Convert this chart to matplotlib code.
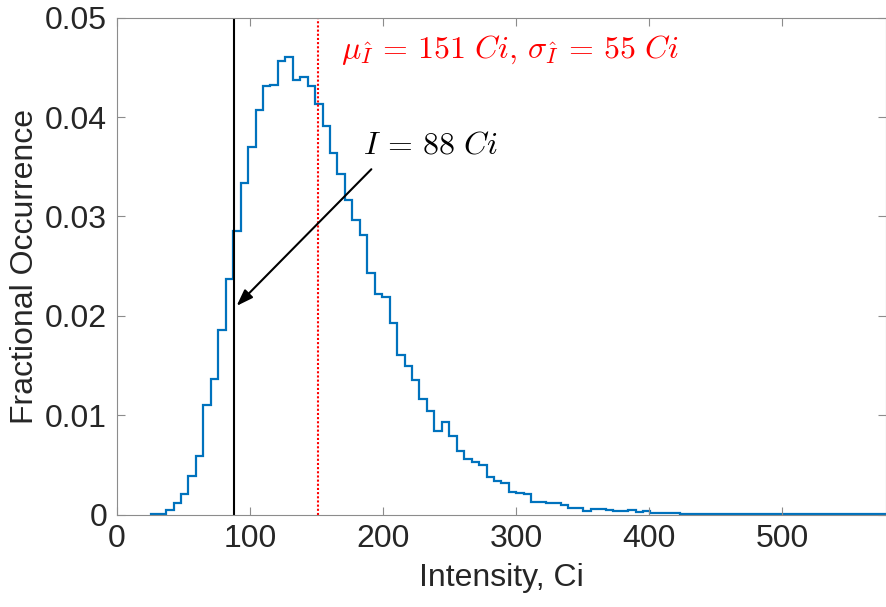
import numpy as np
import matplotlib
matplotlib.use('Agg')
import matplotlib.pyplot as plt

# Histogram (stairs)
BIN_START = 25.75
BIN_WIDTH = 5.6
frac = [
    0.0001, 0.0001, 0.00047, 0.0012, 0.0021, 0.0039, 0.0059, 0.0110, 0.01365, 0.0186,
    0.0237, 0.0285, 0.0334, 0.0370, 0.0407, 0.0431, 0.0432, 0.0456, 0.0460, 0.0437,
    0.0440, 0.0431, 0.0413, 0.0391, 0.0364, 0.0343, 0.0317, 0.0296, 0.0281, 0.0243,
    0.0222, 0.0219, 0.0193, 0.0161, 0.0150, 0.0136, 0.0116, 0.0104, 0.0084, 0.0093,
    0.0079, 0.0064, 0.0056, 0.0053, 0.0050, 0.0038, 0.0034, 0.0032, 0.0023, 0.0022,
    0.0021, 0.0013, 0.00125, 0.0012, 0.00115, 0.0010, 0.0007, 0.00067, 0.0004, 0.00057,
    0.00057, 0.00047, 0.0004, 0.00034, 0.0005, 0.00024, 0.00034, 0.00014, 0.00017, 0.0002,
    0.00017, 0.0001, 0.00008, 0.00008, 0.00006, 0.0001, 0.00004, 0.0001, 0.0001, 0.00004,
    0.00004, 0.00003, 0.00003, 0.0001, 0.00003, 0.00003, 0.00003, 0.00008, 0.00003, 0.00003,
    0.00003, 0.00003, 0.00003, 0.00003, 0.0001, 0.00003, 0.00003, 0.00003, 0.00003, 0.00003,
]
edges = BIN_START + BIN_WIDTH * np.arange(len(frac) + 1)

I_MEASURED = 88
MU = 151
SIGMA = 55
xticks = [0, 100, 200, 300, 400, 500]
yticks = [0, 0.01, 0.02, 0.03, 0.04, 0.05]

plt.rcParams['font.family'] = ['Liberation Sans', 'DejaVu Sans']
plt.rcParams['mathtext.fontset'] = 'cm'

AX_COLOR = '#262626'
SPINE_COLOR = '#8c8c8c'

fig = plt.figure(figsize=(8.86, 6.07), dpi=100)
ax = fig.add_axes([0.132, 0.152, 0.868, 0.819])

ax.stairs(frac, edges, color='#0072BD', linewidth=1.6)
ax.axvline(I_MEASURED, color='black', linewidth=1.5)
ax.axvline(MU, color='red', linewidth=1.5, linestyle=(0, (1, 1)))

ax.annotate('', xy=(89.9, 0.0210), xytext=(191.2, 0.03475),
            arrowprops=dict(arrowstyle='-|>,head_length=1.0,head_width=0.35',
                            color='black', lw=1.5, shrinkA=0, shrinkB=0))
ax.text(184.9, 0.03636, r'$I \,=\, %d\ Ci$' % I_MEASURED, fontsize=23, color='black',
        ha='left', va='baseline')
ax.text(168.6, 0.04595,
        r'$\mu_{\hat{I}} \,=\, %d\ Ci,\, \sigma_{\hat{I}} \,=\, %d\ Ci$' % (MU, SIGMA),
        fontsize=23, color='red', ha='left', va='baseline')

ax.set_xlim(0, 578)
ax.set_ylim(0, 0.05)
ax.set_xticks(xticks)
ax.set_yticks(yticks)
ax.set_yticklabels(['0', '0.01', '0.02', '0.03', '0.04', '0.05'])
ax.tick_params(direction='in', length=5.5, width=0.8, colors=SPINE_COLOR,
               labelcolor=AX_COLOR, labelsize=23, top=True, right=True, pad=7)
for s in ax.spines.values():
    s.set_color(SPINE_COLOR)
    s.set_linewidth(0.8)

ax.set_xlabel('Intensity, Ci', fontsize=23, color=AX_COLOR, labelpad=6)
ax.set_ylabel('Fractional Occurrence', fontsize=23, color=AX_COLOR, labelpad=4)

fig.savefig('out.png', dpi=100)
